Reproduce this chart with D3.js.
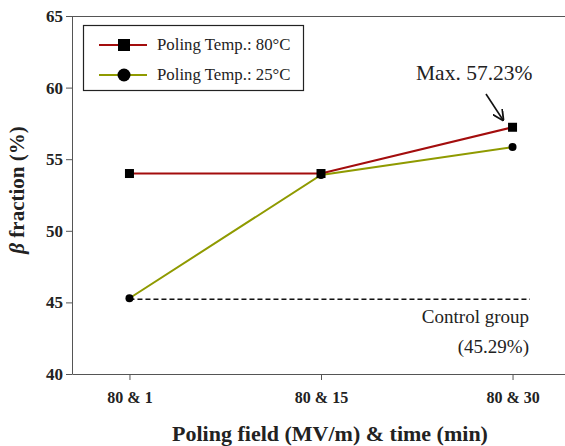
<!DOCTYPE html>
<html><head><meta charset="utf-8">
<script src="https://cdn.jsdelivr.net/npm/d3@7"></script>
<style>body{margin:0;background:#fff}svg{display:block}svg text{font-family:"Liberation Serif","Times New Roman",Times,"DejaVu Serif",serif}</style>
</head><body><svg id="c" width="565" height="446"></svg>
<script>
const categories = ["80 & 1", "80 & 15", "80 & 30"];
const temp80 = [54.0, 54.0, 57.23];
const temp25 = [45.29, 53.9, 55.85];
const controlValue = 45.29;
const yTicks = [40, 45, 50, 55, 60, 65];
const seriesNames = ["Poling Temp.: 80°C", "Poling Temp.: 25°C"];

const svg = d3.select("#c");
const L = 72, R = 570, T = 16, B = 374;
const x = d3.scaleLinear().domain([-0.3, 2.3]).range([L, R]);
const y = d3.scaleLinear().domain([40, 65]).range([B, T]);

svg.append("line").attr("x1", L).attr("x2", 565).attr("y1", T + 0.5).attr("y2", T + 0.5)
  .attr("stroke", "#555").attr("stroke-width", 1);

const yAxis = svg.append("g").attr("transform", `translate(${L},0)`)
  .call(d3.axisLeft(y).tickValues(yTicks).tickSize(6).tickSizeOuter(0));
yAxis.attr("font-family", null).attr("font-size", null);
yAxis.select(".domain").attr("stroke", "#555");
yAxis.selectAll(".tick line").attr("stroke", "#555");
yAxis.selectAll("text").attr("font-weight", "bold")
  .attr("font-size", 17).attr("fill", "#222").attr("x", -9);

const xAxis = svg.append("g").attr("transform", `translate(0,${B})`)
  .call(d3.axisBottom(x).tickValues([0, 1, 2]).tickFormat(i => categories[i]).tickSize(6).tickSizeOuter(0));
xAxis.attr("font-family", null).attr("font-size", null);
xAxis.select(".domain").attr("stroke", "#555");
xAxis.selectAll(".tick line").attr("stroke", "#555");
xAxis.selectAll("text").attr("font-weight", "bold")
  .attr("font-size", 16).attr("fill", "#222").attr("dy", null).attr("y", 29);

svg.append("line").attr("x1", x(0)).attr("x2", 530).attr("y1", y(controlValue) + 1).attr("y2", y(controlValue) + 1)
  .attr("stroke", "#111").attr("stroke-width", 1.5).attr("stroke-dasharray", "5,3");

const line = d3.line().x((d, i) => x(i)).y(d => y(d));
svg.append("path").datum(temp25).attr("d", line).attr("fill", "none")
  .attr("stroke", "#8f9a00").attr("stroke-width", 2);
svg.append("path").datum(temp80).attr("d", line).attr("fill", "none")
  .attr("stroke", "#a30d0d").attr("stroke-width", 2);

svg.selectAll(".c25").data(temp25).enter().append("circle")
  .attr("cx", (d, i) => x(i)).attr("cy", d => y(d)).attr("r", 4).attr("fill", "#000");
svg.selectAll(".s80").data(temp80).enter().append("rect")
  .attr("x", (d, i) => x(i) - 4.5).attr("y", d => y(d) - 4.5).attr("width", 9).attr("height", 9).attr("fill", "#000");

const lg = svg.append("g");
lg.append("rect").attr("x", 83.5).attr("y", 25.5).attr("width", 220).attr("height", 65)
  .attr("fill", "#fff").attr("stroke", "#222").attr("stroke-width", 1.2);
[[45, "#a30d0d", "sq"], [75, "#8f9a00", "ci"]].forEach(([ly, col, m], k) => {
  lg.append("line").attr("x1", 99).attr("x2", 147).attr("y1", ly).attr("y2", ly).attr("stroke", col).attr("stroke-width", 2);
  if (m === "sq") lg.append("rect").attr("x", 118).attr("y", ly - 6).attr("width", 12).attr("height", 12).attr("fill", "#000");
  else lg.append("circle").attr("cx", 124).attr("cy", ly).attr("r", 6.5).attr("fill", "#000");
  lg.append("text").attr("x", 157).attr("y", ly + 5).attr("font-size", 16.8)
    .attr("fill", "#222").text(seriesNames[k]);
});

svg.append("defs").append("marker").attr("id", "ah").attr("viewBox", "0 0 10 10").attr("refX", 9).attr("refY", 5)
  .attr("markerWidth", 7).attr("markerHeight", 7).attr("orient", "auto")
  .append("path").attr("d", "M0,0 L10,5 L0,10").attr("fill", "none").attr("stroke", "#111").attr("stroke-width", 1.6);
svg.append("text").attr("x", 416).attr("y", 80).attr("font-size", 21.5)
  .attr("fill", "#222").text("Max. " + temp80[2].toFixed(2) + "%");
svg.append("line").attr("x1", 486).attr("y1", 94).attr("x2", 503).attr("y2", 120)
  .attr("stroke", "#111").attr("stroke-width", 1.6).attr("marker-end", "url(#ah)");

svg.append("text").attr("x", 529).attr("y", 323).attr("text-anchor", "end")
  .attr("font-size", 19).attr("fill", "#222").text("Control group");
svg.append("text").attr("x", 529).attr("y", 353).attr("text-anchor", "end")
  .attr("font-size", 19).attr("fill", "#222").text("(" + controlValue.toFixed(2) + "%)");

svg.append("text").attr("x", 330).attr("y", 441).attr("text-anchor", "middle")
  .attr("font-weight", "bold").attr("font-size", 22).attr("fill", "#222").text("Poling field (MV/m) & time (min)");
const yt = svg.append("text").attr("transform", "translate(24,190) rotate(-90)").attr("text-anchor", "middle")
  .attr("font-weight", "bold").attr("font-size", 21).attr("fill", "#222");
yt.append("tspan").attr("font-style", "italic").text("β");
yt.append("tspan").text(" fraction (%)");
</script></body></html>
